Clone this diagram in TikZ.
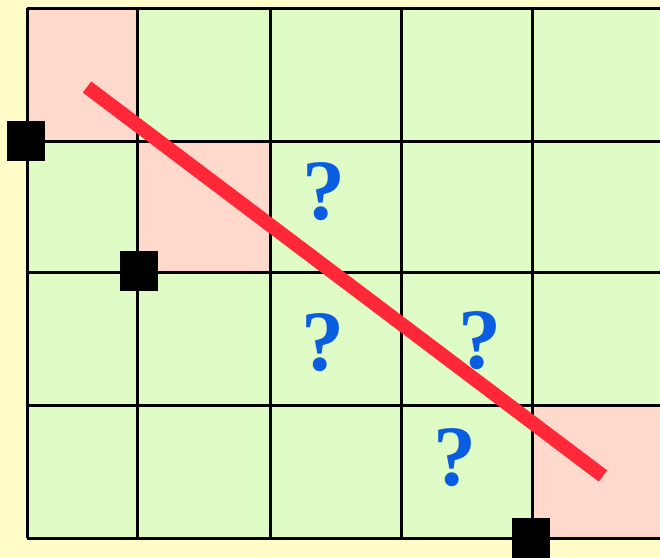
\documentclass[tikz,border=0pt]{standalone}
\usepackage{fontspec}
\setmainfont{Liberation Serif}

\definecolor{bgyellow}{HTML}{FFFCC8}
\definecolor{cellgreen}{HTML}{DFFCC6}
\definecolor{cellpink}{HTML}{FFD9CC}
\definecolor{cutred}{HTML}{FF2838}
\definecolor{qblue}{HTML}{0A5CE0}

\begin{document}
\begin{tikzpicture}[
    x=1pt, y=-1pt,
    cell/.style={fill=cellgreen},
    hit/.style={fill=cellpink},
    gridline/.style={line width=3pt},
    corner/.style={rectangle, fill=black, minimum width=38pt, minimum height=40pt, inner sep=0pt},
    query/.style={text=qblue, font=\fontsize{86}{86}\selectfont\bfseries, inner sep=0pt},
    cut/.style={cutred, line width=14pt}
]

% ============ PAGE ============
\fill[bgyellow] (0,0) rectangle (660,557);
\useasboundingbox (0,0) rectangle (660,557);

\begin{scope}
\clip (0,0) rectangle (660,557);

% Cells
\fill[cell] (27,8) rectangle (670,538);
\fill[hit] (27,8) rectangle (137,141);
\fill[hit] (137,141) rectangle (270,272);
\fill[hit] (532,405) rectangle (670,538);

% Grid lines
\foreach \x in {27,137,270,401,532}
    \draw[gridline] (\x,8) -- (\x,538);
\foreach \y in {8,141,272,405,538}
    \draw[gridline] (27,\y) -- (670,\y);
\end{scope}

% ============ CUT LINE ============
\coordinate (cutstart) at (87,87);
\coordinate (cutend) at (603,476);
\draw[cut] (cutstart) -- (cutend);

% Corner markers
\node[corner] (c1) at (26,141) {};
\node[corner] (c2) at (139,271) {};
\node[corner] (c3) at (531,538) {};

% Unknown cells
\node[query] (q1) at (324,192) {?};
\node[query] (q2) at (323,343) {?};
\node[query] (q3) at (480,341) {?};
\node[query] (q4) at (455,458) {?};

\end{tikzpicture}
\end{document}
